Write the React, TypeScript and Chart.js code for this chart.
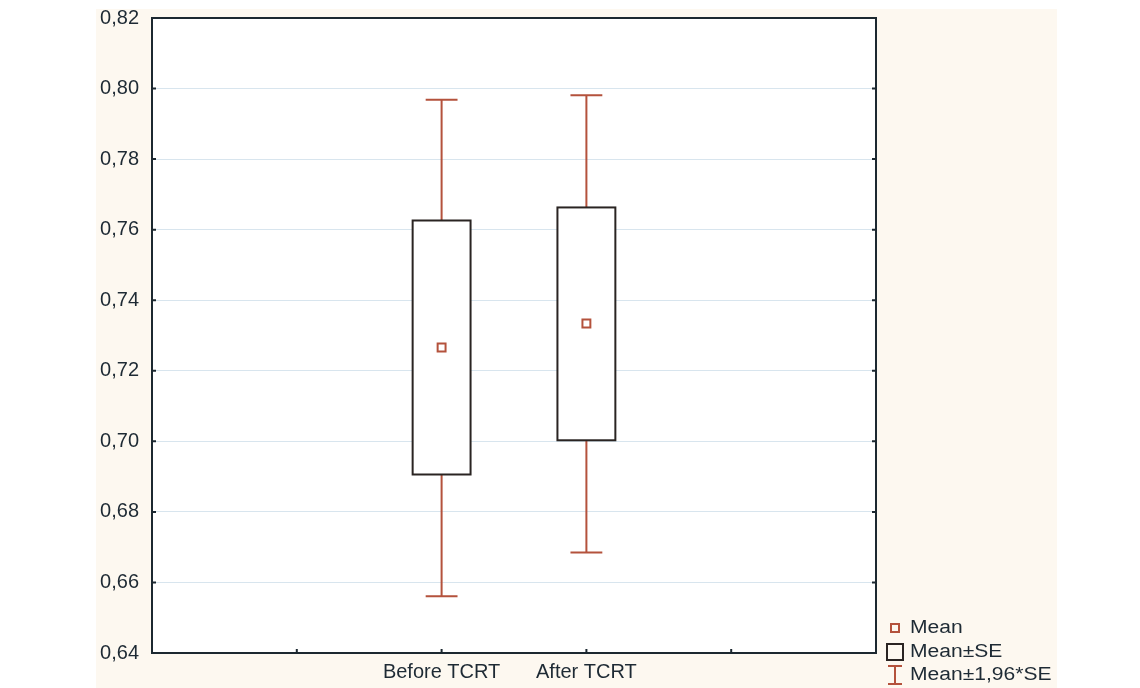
import React, { useEffect, useRef } from 'react';
import { Chart, registerables } from 'chart.js';

Chart.register(...registerables);

// ---- data ----
const categories = ['Before TCRT', 'After TCRT'];
const means = [0.7266, 0.7334];
const seLow = [0.6906, 0.7003];
const seHigh = [0.7626, 0.7663];
const ciLow = [0.6561, 0.6685];
const ciHigh = [0.7968, 0.7981];
const yMin = 0.64;
const yMax = 0.82;
const yStep = 0.02;
const legendLabels = ['Mean', 'Mean±SE', 'Mean±1,96*SE'];
const axisLabels = ['', '', ...categories, '', ''];

const WHISKER = '#b4523c';
const BOXLINE = '#2a2422';
const FRAME = '#1c2830';
const TEXT = '#1e2a34';
const CREAM = '#fdf8f0';
const GRID = '#d8e5ee';
const FONT = '"Liberation Sans", Arial, sans-serif';

const boxPlugin = {
  id: 'boxWhisker',
  beforeDraw(chart: any) {
    const { ctx, chartArea: a } = chart;
    ctx.save();
    ctx.fillStyle = CREAM;
    ctx.fillRect(96, 9, 961, 679);
    ctx.fillStyle = '#ffffff';
    ctx.fillRect(a.left, a.top, a.right - a.left, a.bottom - a.top);
    ctx.restore();
  },
  beforeDatasetsDraw(chart: any) {
    const { ctx } = chart;
    const x = chart.scales.x;
    const y = chart.scales.y;
    const slot = x.getPixelForValue(1) - x.getPixelForValue(0);
    const halfBox = slot * 0.2;
    const halfCap = slot * 0.11;
    ctx.save();
    categories.forEach((c, i) => {
      const cx = x.getPixelForValue(axisLabels.indexOf(c));
      const yTop = y.getPixelForValue(seHigh[i]);
      const yBot = y.getPixelForValue(seLow[i]);
      const wTop = y.getPixelForValue(ciHigh[i]);
      const wBot = y.getPixelForValue(ciLow[i]);
      ctx.strokeStyle = WHISKER;
      ctx.lineWidth = 2;
      ctx.beginPath();
      ctx.moveTo(cx, yTop);
      ctx.lineTo(cx, wTop);
      ctx.moveTo(cx - halfCap, wTop);
      ctx.lineTo(cx + halfCap, wTop);
      ctx.moveTo(cx, yBot);
      ctx.lineTo(cx, wBot);
      ctx.moveTo(cx - halfCap, wBot);
      ctx.lineTo(cx + halfCap, wBot);
      ctx.stroke();
      ctx.fillStyle = '#ffffff';
      ctx.fillRect(cx - halfBox, yTop, halfBox * 2, yBot - yTop);
      ctx.strokeStyle = BOXLINE;
      ctx.lineWidth = 2;
      ctx.strokeRect(cx - halfBox, yTop, halfBox * 2, yBot - yTop);
    });
    ctx.restore();
  },
  afterDraw(chart: any) {
    const { ctx, chartArea: a } = chart;
    const x = chart.scales.x;
    const y = chart.scales.y;
    ctx.save();
    // frame
    ctx.strokeStyle = FRAME;
    ctx.lineWidth = 2;
    ctx.strokeRect(a.left, a.top, a.right - a.left, a.bottom - a.top);
    // inner ticks
    ctx.lineWidth = 2;
    ctx.beginPath();
    y.ticks.forEach((t: any) => {
      const py = y.getPixelForValue(t.value);
      ctx.moveTo(a.left, py);
      ctx.lineTo(a.left + 4, py);
      ctx.moveTo(a.right, py);
      ctx.lineTo(a.right - 4, py);
    });
    for (let i = 1; i < axisLabels.length - 1; i++) {
      const px = x.getPixelForValue(i);
      ctx.moveTo(px, a.bottom);
      ctx.lineTo(px, a.bottom - 4);
    }
    ctx.stroke();

    // legend
    const lx = 895;
    const tx = 910;
    const rows = [628, 652, 675];
    ctx.font = `18px ${FONT}`;
    ctx.fillStyle = TEXT;
    ctx.textBaseline = 'middle';
    ctx.textAlign = 'left';
    legendLabels.forEach((l, i) => {
      ctx.save();
      ctx.translate(tx, rows[i]);
      ctx.scale(1.17, 1);
      ctx.fillText(l, 0, 0);
      ctx.restore();
    });
    // mean icon
    ctx.strokeStyle = WHISKER;
    ctx.lineWidth = 2;
    ctx.strokeRect(lx - 4, rows[0] - 4, 8, 8);
    // SE box icon
    ctx.strokeStyle = BOXLINE;
    ctx.strokeRect(lx - 8, rows[1] - 8, 16, 16);
    // whisker icon
    ctx.strokeStyle = WHISKER;
    ctx.beginPath();
    ctx.moveTo(lx - 7, rows[2] - 9);
    ctx.lineTo(lx + 7, rows[2] - 9);
    ctx.moveTo(lx, rows[2] - 9);
    ctx.lineTo(lx, rows[2] + 9);
    ctx.moveTo(lx - 7, rows[2] + 9);
    ctx.lineTo(lx + 7, rows[2] + 9);
    ctx.stroke();
    ctx.restore();
  },
};

export default function App() {
  const ref = useRef<HTMLCanvasElement | null>(null);
  useEffect(() => {
    if (!ref.current) return;
    const meanData = axisLabels.map((l) => {
      const i = categories.indexOf(l);
      return i >= 0 ? means[i] : null;
    });
    const chart = new Chart(ref.current, {
      type: 'line',
      data: {
        labels: axisLabels,
        datasets: [
          {
            label: legendLabels[0],
            data: meanData,
            showLine: false,
            pointStyle: 'rect',
            pointRadius: 5.6,
            pointHoverRadius: 5.6,
            borderColor: WHISKER,
            backgroundColor: '#ffffff',
            pointBorderWidth: 2,
            borderWidth: 2,
          },
        ],
      },
      options: {
        responsive: false,
        animation: false,
        events: [],
        layout: { padding: { left: 96, top: 18, right: 264, bottom: 0 } },
        plugins: { legend: { display: false }, tooltip: { enabled: false } },
        scales: {
          x: {
            type: 'category',
            offset: false,
            grid: { display: false, drawTicks: false },
            border: { display: false },
            ticks: {
              autoSkip: false,
              maxRotation: 0,
              minRotation: 0,
              padding: 7,
              color: TEXT,
              font: { family: FONT, size: 20 },
            },
            afterFit: (s: any) => {
              s.height = 35;
              s.paddingLeft = 0;
              s.paddingRight = 0;
            },
          },
          y: {
            min: yMin,
            max: yMax,
            grid: { color: GRID, lineWidth: 1, drawTicks: false },
            border: { display: false },
            ticks: {
              stepSize: yStep,
              padding: 13,
              color: TEXT,
              font: { family: FONT, size: 20 },
              callback: (v: any) => Number(v).toFixed(2).replace('.', ','),
            },
            afterFit: (s: any) => {
              s.width = 56;
              s.paddingTop = 0;
              s.paddingBottom = 0;
            },
          },
        },
      },
      plugins: [boxPlugin],
    });
    return () => chart.destroy();
  }, []);
  return (
    <div style={{ position: 'absolute', left: 0, top: 0, width: 1140, height: 688 }}>
      <canvas ref={ref} width={1140} height={688} />
    </div>
  );
}
